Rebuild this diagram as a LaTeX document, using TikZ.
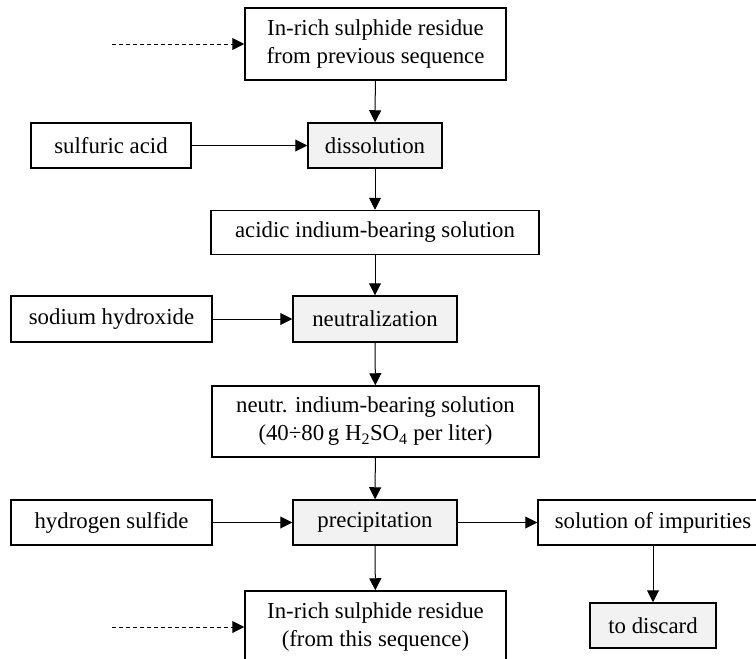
\documentclass[tikz,border=0pt]{standalone}
\usepackage{fontspec}
\setmainfont{Liberation Serif}
\usetikzlibrary{arrows.meta, positioning}

\begin{document}
\begin{tikzpicture}[
    x=1pt, y=-1pt,
    flowbox/.style={rectangle, draw, line width=1.5pt, inner sep=0pt, align=center,
      font=\fontsize{22.8}{28}\selectfont},
    stepbox/.style={flowbox, fill=gray!10},
    arrow/.style={line width=1pt, -{Triangle[length=12pt, width=12pt]}},
    feed/.style={arrow, dashed, dash pattern=on 4pt off 3pt}
  ]
  \useasboundingbox (0,0) rectangle (756,659);

  % main column
  \node[flowbox, minimum width=261pt, minimum height=72pt] (res0) at (375.5,44)
    {In-rich sulphide residue\\from previous sequence};
  \node[stepbox, minimum width=134pt, minimum height=45pt] (dissol) at (375,145.5) {dissolution};
  \node[flowbox, minimum width=328pt, minimum height=44pt] (acidsol) at (375,232.5)
    {acidic indium-bearing solution};
  \node[stepbox, minimum width=164pt, minimum height=46pt] (neutral) at (375,319) {neutralization};
  \node[flowbox, minimum width=327pt, minimum height=71pt] (neutsol) at (375.5,421.5)
    {neutr. indium-bearing solution\\(40÷80\,g H\textsubscript{2}SO\textsubscript{4} per liter)};
  \node[stepbox, minimum width=164pt, minimum height=45pt] (precip) at (375,522.5) {precipitation};
  \node[flowbox, minimum width=261pt, minimum height=72pt] (res1) at (375.5,627)
    {In-rich sulphide residue\\(from this sequence)};

  % reagents
  \node[flowbox, minimum width=160pt, minimum height=45pt] (acid) at (111,145.5) {sulfuric acid};
  \node[flowbox, minimum width=201pt, minimum height=46pt] (naoh) at (111.5,319) {sodium hydroxide};
  \node[flowbox, minimum width=201pt, minimum height=45pt] (hs) at (111.5,522.5) {hydrogen sulfide};

  % waste branch
  \node[flowbox, minimum width=230pt, minimum height=45pt] (impur) at (653,522.5) {solution of impurities};
  \node[stepbox, minimum width=126pt, minimum height=45pt] (discard) at (653,625.5) {to discard};

  \coordinate (in0) at (112,44);
  \coordinate (in1) at (112,627);

  \draw[feed] (in0) -- (res0);
  \draw[feed] (in1) -- (res1);

  \draw[arrow] (res0) -- (dissol);
  \draw[arrow] (dissol) -- (acidsol);
  \draw[arrow] (acidsol) -- (neutral);
  \draw[arrow] (neutral) -- (neutsol);
  \draw[arrow] (neutsol) -- (precip);
  \draw[arrow] (precip) -- (res1);

  \draw[arrow] (acid) -- (dissol);
  \draw[arrow] (naoh) -- (neutral);
  \draw[arrow] (hs) -- (precip);

  \draw[arrow] (precip) -- (impur);
  \draw[arrow] (impur.south -| discard) -- (discard);
\end{tikzpicture}
\end{document}
